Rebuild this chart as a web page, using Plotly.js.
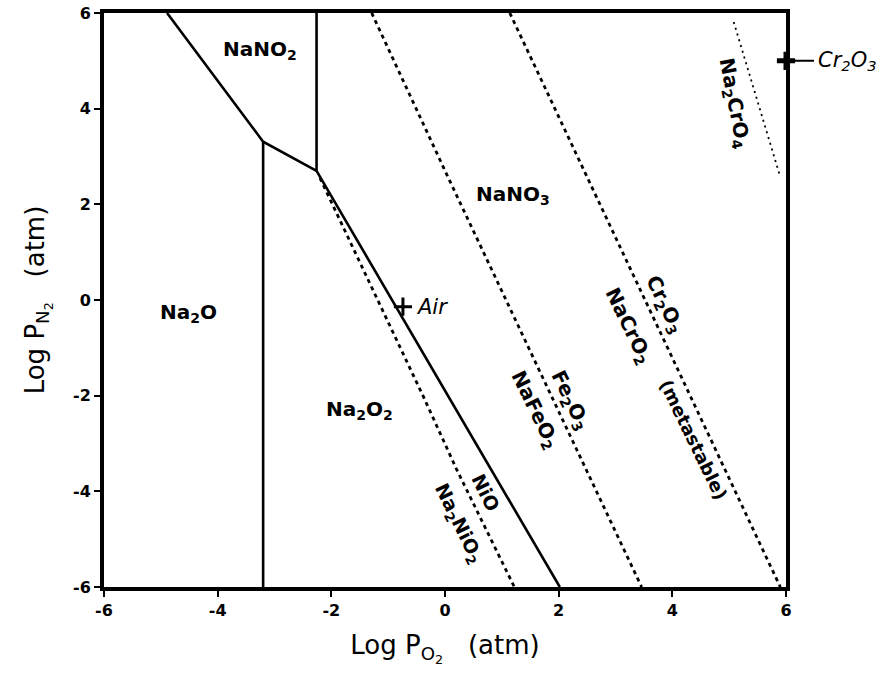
<!DOCTYPE html>
<html>
<head>
<meta charset="utf-8">
<script src="https://cdn.plot.ly/plotly-3.0.1.min.js"></script>
<style>html,body{margin:0;padding:0;background:#fff;}#chart{width:891px;height:680px;}</style>
</head>
<body>
<div id="chart"></div>
<script>
// Phase boundaries (log PO2, log PN2)
const na2oUpperX = [-4.89, -3.2, -2.26];
const na2oUpperY = [6, 3.31, 2.7];
const nitrateBoundaryX = [-2.26, 2.02];
const nitrateBoundaryY = [2.7, -6];
const na2oNa2o2X = [-3.2, -3.2];
const na2oNa2o2Y = [3.31, -6];
const nitriteNitrateX = [-2.26, -2.26];
const nitriteNitrateY = [6, 2.7];
const nioX = [-2.2, -0.38, 0.2, 1.22];
const nioY = [2.55, -2.02, -3.53, -6];
const fe2o3X = [-1.29, 0.06, 3.46];
const fe2o3Y = [6, 2.55, -6];
const cr2o3X = [1.14, 5.9];
const cr2o3Y = [6, -6];
const na2cro4X = [5.08, 5.89];
const na2cro4Y = [5.81, 2.61];
const airX = [-0.74];
const airY = [-0.14];
const cr2o3PointX = [6];
const cr2o3PointY = [5];
const tickVals = [-6, -4, -2, 0, 2, 4, 6];
const tickText = ['-6', '-4', '-2', '0', '2', '4', '6'];

const solid = {color: '#000', width: 2.6};
const dashed = {color: '#000', width: 2.8, dash: '4px,4px'};
function line(x, y, style) {
  return {x: x, y: y, mode: 'lines', line: style, hoverinfo: 'skip', showlegend: false, cliponaxis: false};
}
const traces = [
  line(na2oUpperX, na2oUpperY, solid),
  line(nitrateBoundaryX, nitrateBoundaryY, solid),
  line(na2oNa2o2X, na2oNa2o2Y, solid),
  line(nitriteNitrateX, nitriteNitrateY, solid),
  line(nioX, nioY, dashed),
  line(fe2o3X, fe2o3Y, dashed),
  line(cr2o3X, cr2o3Y, dashed),
  line(na2cro4X, na2cro4Y, {color: '#000', width: 1.8, dash: '2px,4px'}),
  {x: airX, y: airY, mode: 'markers', marker: {symbol: 'cross-thin', size: 13, line: {width: 3, color: '#000'}}, showlegend: false, hoverinfo: 'skip', cliponaxis: false},
  {x: cr2o3PointX, y: cr2o3PointY, mode: 'markers', marker: {symbol: 'cross-thin', size: 13, line: {width: 5, color: '#000'}}, showlegend: false, hoverinfo: 'skip', cliponaxis: false}
];

function lab(x, y, text, angle, size) {
  return {x: x, y: y, text: '<b>' + text + '</b>', showarrow: false, textangle: angle || 0,
          font: {family: 'DejaVu Sans', size: size || 20, color: '#000'}};
}
const annotations = [
  lab(-3.26, 5.22, 'NaNO<sub>2</sub>'),
  lab(1.2, 2.19, 'NaNO<sub>3</sub>'),
  lab(-4.52, -0.28, 'Na<sub>2</sub>O'),
  lab(-1.51, -2.3, 'Na<sub>2</sub>O<sub>2</sub>'),
  lab(0.72, -4.04, 'NiO', 64, 19),
  lab(0.23, -4.68, 'Na<sub>2</sub>NiO<sub>2</sub>', 64, 19),
  lab(2.2, -2.09, 'Fe<sub>2</sub>O<sub>3</sub>', 64, 20),
  lab(1.58, -2.3, 'NaFeO<sub>2</sub>', 64, 20),
  lab(3.87, -0.1, 'Cr<sub>2</sub>O<sub>3</sub>', 64, 20),
  lab(3.22, -0.55, 'NaCrO<sub>2</sub>', 64, 20),
  lab(4.37, -2.92, '(metastable)', 64, 18),
  lab(5.08, 4.11, 'Na<sub>2</sub>CrO<sub>4</sub>', 79, 20),
  {x: -0.55, y: -0.14, text: '<i>Air</i>', showarrow: false, xanchor: 'left',
   font: {family: 'DejaVu Sans', size: 21, color: '#000'}},
  {x: 6, y: 5, ax: 30, ay: 0, text: '<i>Cr<sub>2</sub>O<sub>3</sub></i>', showarrow: true,
   arrowhead: 0, arrowwidth: 2, arrowcolor: '#000', xanchor: 'left', standoff: 0, startstandoff: 2,
   font: {family: 'DejaVu Sans', size: 21, color: '#000'}}
];

const axisBase = {
  range: [-6, 6], tickvals: tickVals, ticktext: tickText, ticks: 'outside', ticklen: 6, tickwidth: 2,
  tickcolor: '#000', showline: true, linewidth: 4, linecolor: '#000', mirror: true,
  showgrid: false, zeroline: false, tickfont: {family: 'DejaVu Sans', size: 16, color: '#000', weight: 'bold'}
};
const layout = {
  width: 891, height: 680,
  margin: {l: 104, r: 105, t: 13, b: 93},
  paper_bgcolor: '#fff', plot_bgcolor: '#fff',
  xaxis: Object.assign({}, axisBase, {
    title: {text: 'Log P<sub>O<sub>2</sub></sub>   (atm)', font: {family: 'DejaVu Sans', size: 26, color: '#000'}, standoff: 18}
  }),
  yaxis: Object.assign({}, axisBase, {
    title: {text: 'Log P<sub>N<sub>2</sub></sub>   (atm)', font: {family: 'DejaVu Sans', size: 26, color: '#000'}, standoff: 22}
  }),
  annotations: annotations,
  showlegend: false
};
Plotly.newPlot('chart', traces, layout, {staticPlot: true});
</script>
</body>
</html>
